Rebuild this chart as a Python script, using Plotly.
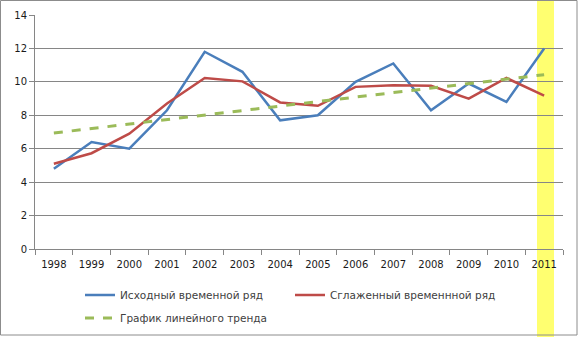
import plotly.graph_objects as go

# Годы и значения рядов
years = ["1998", "1999", "2000", "2001", "2002", "2003", "2004",
         "2005", "2006", "2007", "2008", "2009", "2010", "2011"]
original = [4.8, 6.4, 6.0, 8.3, 11.8, 10.6, 7.7, 8.0, 10.0, 11.1, 8.3, 9.9, 8.8, 12.0]
smoothed = [5.1, 5.73, 6.9, 8.7, 10.23, 10.03, 8.77, 8.57, 9.7, 9.8, 9.77, 9.0, 10.23, 9.17]
trend = [6.94, 7.21, 7.48, 7.75, 8.02, 8.29, 8.56, 8.83, 9.10, 9.37, 9.64, 9.91, 10.18, 10.43]

y_ticks = [0, 2, 4, 6, 8, 10, 12, 14]

W, H = 578, 337
L, R, T, B = 35, 15, 15, 88
PW, PH = W - L - R, H - T - B


def px_x(p):
    return (p - L) / PW


def px_y(p):
    return (H - B - p) / PH


fig = go.Figure()
fig.add_trace(go.Scatter(x=years, y=original, mode="lines", name="Исходный временной ряд",
                         line=dict(color="#4A7EBB", width=2.5), legend="legend"))
fig.add_trace(go.Scatter(x=years, y=smoothed, mode="lines", name="Сглаженный временнной ряд",
                         line=dict(color="#BE4B48", width=2.5), legend="legend"))
fig.add_trace(go.Scatter(x=years, y=trend, mode="lines", name="График линейного тренда",
                         line=dict(color="#9BBB59", width=3, dash="9px,9px"), legend="legend2"))

shapes = [
    # выделение последнего года
    dict(type="rect", xref="paper", yref="paper", layer="below",
         x0=px_x(537), x1=px_x(554), y0=px_y(H), y1=px_y(0),
         fillcolor="#FFFF70", line=dict(width=0)),
    # рамка диаграммы
    dict(type="rect", xref="paper", yref="paper", layer="above",
         x0=px_x(0.5), x1=px_x(577), y0=px_y(335), y1=px_y(0.5),
         fillcolor="rgba(0,0,0,0)", line=dict(color="#8C8C8C", width=1)),
]

fig.update_layout(
    width=W, height=H,
    margin=dict(l=L, r=R, t=T, b=B, autoexpand=False),
    paper_bgcolor="white", plot_bgcolor="rgba(0,0,0,0)",
    font=dict(family="DejaVu Sans", size=10, color="#1a1a1a"),
    shapes=shapes,
    legend=dict(orientation="h", x=px_x(80), y=px_y(295), xanchor="left", yanchor="middle",
                entrywidth=165, entrywidthmode="pixels", bgcolor="rgba(0,0,0,0)",
                font=dict(family="DejaVu Sans", size=10.5, color="#404040")),
    legend2=dict(orientation="h", x=px_x(80), y=px_y(318), xanchor="left", yanchor="middle",
                 bgcolor="rgba(0,0,0,0)",
                 font=dict(family="DejaVu Sans", size=10.5, color="#404040")),
    xaxis=dict(type="category", tickson="boundaries", ticks="outside", ticklen=5,
               tickcolor="#868686", showline=True, linecolor="#868686", linewidth=1,
               showgrid=False, range=[-0.5, 13.5], fixedrange=True,
               ticklabelstandoff=6),
    yaxis=dict(range=[0, 14], tickvals=y_ticks, ticks="outside", ticklen=5,
               tickcolor="#868686", showline=True, linecolor="#868686", linewidth=1,
               showgrid=True, gridcolor="#868686", gridwidth=1, zeroline=False,
               fixedrange=True),
)

fig.write_html("out.html")
